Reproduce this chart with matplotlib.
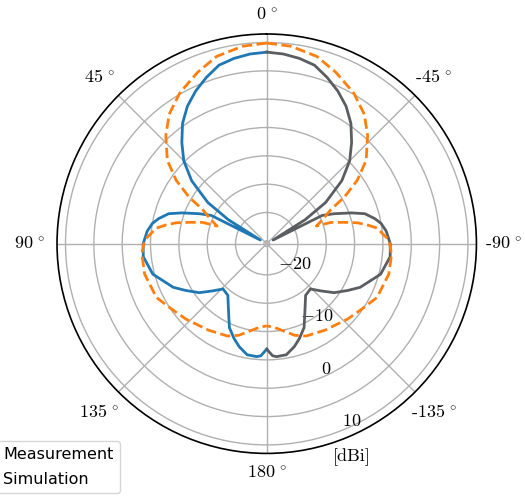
import matplotlib
matplotlib.use('Agg')
import matplotlib.pyplot as plt
import numpy as np

plt.rcParams['mathtext.fontset'] = 'cm'

# Measured pattern, 0..180 deg (mirrored onto the other half)
measAngle = [0, 5, 10, 15, 20, 25, 30, 35, 40, 45, 50, 55, 58, 60, 63, 66,
             70, 73, 77, 80, 84, 90, 96, 105, 115, 120, 126, 131, 136, 143,
             150, 156, 161, 165, 170, 175, 177, 180]
measGain = [8.3, 8.1, 7.7, 7.1, 5.7, 4.2, 2.5, 0.4, -2.2, -4.8, -8.2, -12.8,
            -17.5, -24.2, -14.5, -12.5, -9.6, -7.4, -5.9, -5.0, -4.3, -3.7,
            -3.6, -4.7, -7.3, -9.0, -10.8, -12.8, -14.4, -14.1, -12.0, -9.3,
            -7.8, -6.7, -5.6, -5.5, -5.7, -6.9]

# Simulated pattern, 0..180 deg
simAngle = [0, 7, 15, 22, 30, 37, 43, 50, 55, 59, 62, 66, 70.5, 71.6, 74.6,
            77, 79.5, 82, 85, 87.5, 90, 95, 104, 116, 125, 133, 146, 157,
            163, 169, 175, 180]
simGain = [9.9, 9.6, 8.7, 7.1, 5.2, 3.1, 0.6, -2.6, -6.0, -9.5, -12.7, -14.5,
           -16.2, -13.6, -11.3, -9.1, -7.4, -5.8, -5.0, -4.2, -3.8, -3.4,
           -3.3, -3.85, -5.2, -6.0, -7.1, -7.8, -8.6, -9.8, -10.7, -11.0]

rTicks = [-25, -20, -15, -10, -5, 0, 5, 10]
rTickLabels = ['', '$-20$', '', '$-10$', '', '$0$', '', '$10$']
thetaTicks = [0, 45, 90, 135, 180, 225, 270, 315]
thetaLabels = ['0$\\,^\\circ$', '45$\\,^\\circ$', '90$\\,^\\circ$',
               '135$\\,^\\circ$', '180$\\,^\\circ$', '-135$\\,^\\circ$',
               '-90$\\,^\\circ$', '-45$\\,^\\circ$']

fig = plt.figure(figsize=(5.25, 4.97), dpi=100)
ax = fig.add_axes([0.1086, 0.0877, 0.7989, 0.8439], projection='polar')
ax.set_theta_zero_location('N')
ax.set_theta_direction(1)

th = np.deg2rad(measAngle)
ax.plot(th, measGain, color='#1f77b4', lw=2, label='Measurement')
ax.plot(-th, measGain, color='#5a5e62', lw=2)
ths = np.deg2rad(simAngle)
ax.plot(ths, simGain, '--', color='#ff7f0e', lw=2, label='Simulation')
ax.plot(-ths, simGain, '--', color='#ff7f0e', lw=2)

ax.set_rlim(-25.5, 11.5)
ax.set_rgrids(rTicks, labels=rTickLabels, fontsize=13)
ax.set_rlabel_position(-158)
ax.set_thetagrids(thetaTicks, labels=thetaLabels, fontsize=13,
                  fontfamily='cmr10')
ax.tick_params(axis='x', pad=9)
# top and bottom labels sit closer to the rim
xticks = ax.xaxis.get_major_ticks()
for i in (0, 4):
    xticks[i].set_pad(3.5)
ax.grid(True, color='#b0b0b0', lw=1)
ax.spines['polar'].set_linewidth(1.2)

fig.text(352/525, 1 - 457/497, '[dBi]', fontsize=13, family='cmr10',
         ha='center', va='center')

ax.legend(loc='lower right', bbox_to_anchor=(120/525, 4/497),
          bbox_transform=fig.transFigure, fontsize=11.5, borderaxespad=0,
          labelspacing=0.6)

plt.savefig('out.png', dpi=100)
